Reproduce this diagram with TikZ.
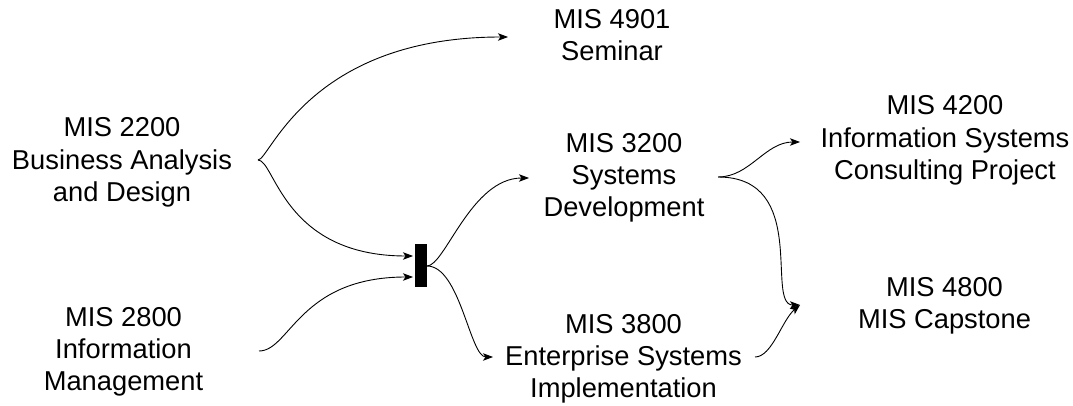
\documentclass[tikz,border=0pt]{standalone}
\usepackage{fontspec}
\setmainfont{Liberation Sans}
\usetikzlibrary{arrows.meta}
\begin{document}
\begin{tikzpicture}[x=1pt,y=-1pt,
  course/.style={align=center, anchor=base, inner sep=0pt, font=\fontsize{27.3}{32.3}\selectfont},
  link/.style={line width=0.9pt, -{Stealth[length=10pt,width=7.5pt,inset=2.5pt]}},
  barbox/.style={fill=black, draw=none, minimum width=12pt, minimum height=43pt, inner sep=0pt}]
\useasboundingbox (0,0) rectangle (1073,406);
% course texts (anchored at the baseline of the last line)
\node[course] (c2200) at (122,201.6) {MIS 2200\\Business Analysis\\and Design};
\node[course] (c2800) at (123.5,390.6) {MIS 2800\\Information\\Management};
\node[course] (c4901) at (612,60.8) {MIS 4901\\Seminar};
\node[course] (c3200) at (624,216.6) {MIS 3200\\Systems\\Development};
\node[course] (c3800) at (623.5,397.6) {MIS 3800\\Enterprise Systems\\Implementation};
\node[course] (c4200) at (945,179.6) {MIS 4200\\Information Systems\\Consulting Project};
\node[course] (c4800) at (944.5,328.3) {MIS 4800\\MIS Capstone};
% junction bar
\node[barbox] (bar) at (421,265.5) {};
% ports
\coordinate (p2200) at (258,160);
\coordinate (p2800) at (259,351);
\coordinate (in1) at (413,256);
\coordinate (in2) at (413,277);
\coordinate (out) at (427,266);
\coordinate (t4901) at (508,37);
\coordinate (t3200) at (529,178);
\coordinate (t3800) at (493,357);
\coordinate (p3200) at (718,177);
\coordinate (p3800) at (755,357);
\coordinate (t4200) at (800,142);
\coordinate (t4800) at (800,305);
% connectors
\draw[link] (p2200) .. controls (270,160) and (308,37) .. (t4901);
\draw[link] (p2200) .. controls (275,160) and (283,256) .. (in1);
\draw[link] (p2800) .. controls (290,351) and (299,277) .. (in2);
\draw[link] (out) .. controls (445,266) and (471,178) .. (t3200);
\draw[link] (out) .. controls (460,266) and (470,357) .. (t3800);
\draw[link] (p3200) .. controls (750,177) and (765,142) .. (t4200);
\draw[link] (p3200) .. controls (810,177) and (765,305) .. (t4800);
\draw[link] (p3800) .. controls (772,357) and (782,320) .. (t4800);
\end{tikzpicture}
\end{document}
